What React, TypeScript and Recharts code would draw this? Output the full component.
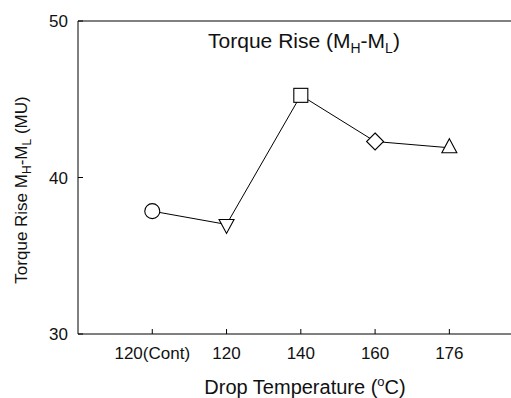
import React from "react";
import { LineChart, Line, XAxis, YAxis, Customized } from "recharts";

const categories = ["120(Cont)", "120", "140", "160", "176"];
const positions = [1, 2, 3, 4, 5];
const torqueRise = [37.85, 37.0, 45.25, 42.3, 41.9];
const markers = ["circle", "triangleDown", "square", "diamond", "triangleUp"];
const yTicks = [30, 40, 50];

const data = positions.map((x, i) => ({ x, v: torqueRise[i], shape: markers[i] }));

const FONT = "'Liberation Sans', Arial, sans-serif";

function Marker(props: any) {
  const { cx, cy, payload } = props;
  if (cx == null || cy == null) return null;
  const st = { fill: "#fff", stroke: "#000", strokeWidth: 1.1 };
  switch (payload.shape) {
    case "circle":
      return <circle key="c" cx={cx} cy={cy} r={7.5} {...st} />;
    case "square":
      return <rect key="s" x={cx - 7} y={cy - 7} width={14} height={14} {...st} />;
    case "diamond":
      return <path key="d" d={`M${cx},${cy - 8.5}L${cx + 8.5},${cy}L${cx},${cy + 8.5}L${cx - 8.5},${cy}Z`} {...st} />;
    case "triangleDown":
      return <path key="td" d={`M${cx - 7.5},${cy - 5}L${cx + 7.5},${cy - 5}L${cx},${cy + 9}Z`} {...st} />;
    default:
      return <path key="tu" d={`M${cx},${cy - 9}L${cx + 7.5},${cy + 5}L${cx - 7.5},${cy + 5}Z`} {...st} />;
  }
}

function Labels() {
  return (
    <g fontFamily={FONT} fill="#111">
      <text x={304} y={48} fontSize={21} textAnchor="middle">
        Torque Rise (M<tspan dy={5} fontSize={14}>H</tspan>
        <tspan dy={-5}>-M</tspan>
        <tspan dy={5} fontSize={14}>L</tspan>
        <tspan dy={-5}>)</tspan>
      </text>
      <text x={305} y={394} fontSize={20} textAnchor="middle">
        Drop Temperature (<tspan dy={-8} fontSize={13}>o</tspan>
        <tspan dy={8}>C)</tspan>
      </text>
      <text x={0} y={0} fontSize={17} textAnchor="middle" transform="translate(27,190) rotate(-90)">
        Torque Rise M<tspan dy={4} fontSize={12}>H</tspan>
        <tspan dy={-4}>-M</tspan>
        <tspan dy={4} fontSize={12}>L</tspan>
        <tspan dy={-4}> (MU)</tspan>
      </text>
    </g>
  );
}

export default function App() {
  const tickStyle = { fill: "#111", fontSize: 17, fontFamily: FONT };
  return (
    <div style={{ position: "absolute", left: 0, top: 0, background: "#fff" }}>
      <LineChart width={511} height={398} data={data} margin={{ top: 0, right: 0, bottom: 0, left: 0 }}>
        <XAxis
          dataKey="x"
          type="number"
          domain={[0, 5.83]}
          allowDataOverflow
          ticks={positions}
          tickFormatter={(v: number) => categories[v - 1]}
          height={64}
          stroke="#000"
          tickSize={-5}
          tickMargin={18}
          tick={tickStyle}
          interval={0}
        />
        <XAxis
          xAxisId="top"
          orientation="top"
          type="number"
          domain={[0, 5.83]}
          allowDataOverflow
          ticks={positions}
          height={21}
          stroke="#000"
          tickSize={-5}
          tick={false}
        />
        <YAxis
          type="number"
          domain={[30, 50]}
          ticks={yTicks}
          width={78}
          stroke="#000"
          tickSize={-5}
          tickMargin={15}
          tick={tickStyle}
          interval={0}
        />
        <Line
          dataKey="v"
          stroke="#000"
          strokeWidth={1}
          dot={(p: any) => <Marker key={p.index} {...p} />}
          isAnimationActive={false}
        />
        <Customized component={Labels} />
      </LineChart>
    </div>
  );
}
